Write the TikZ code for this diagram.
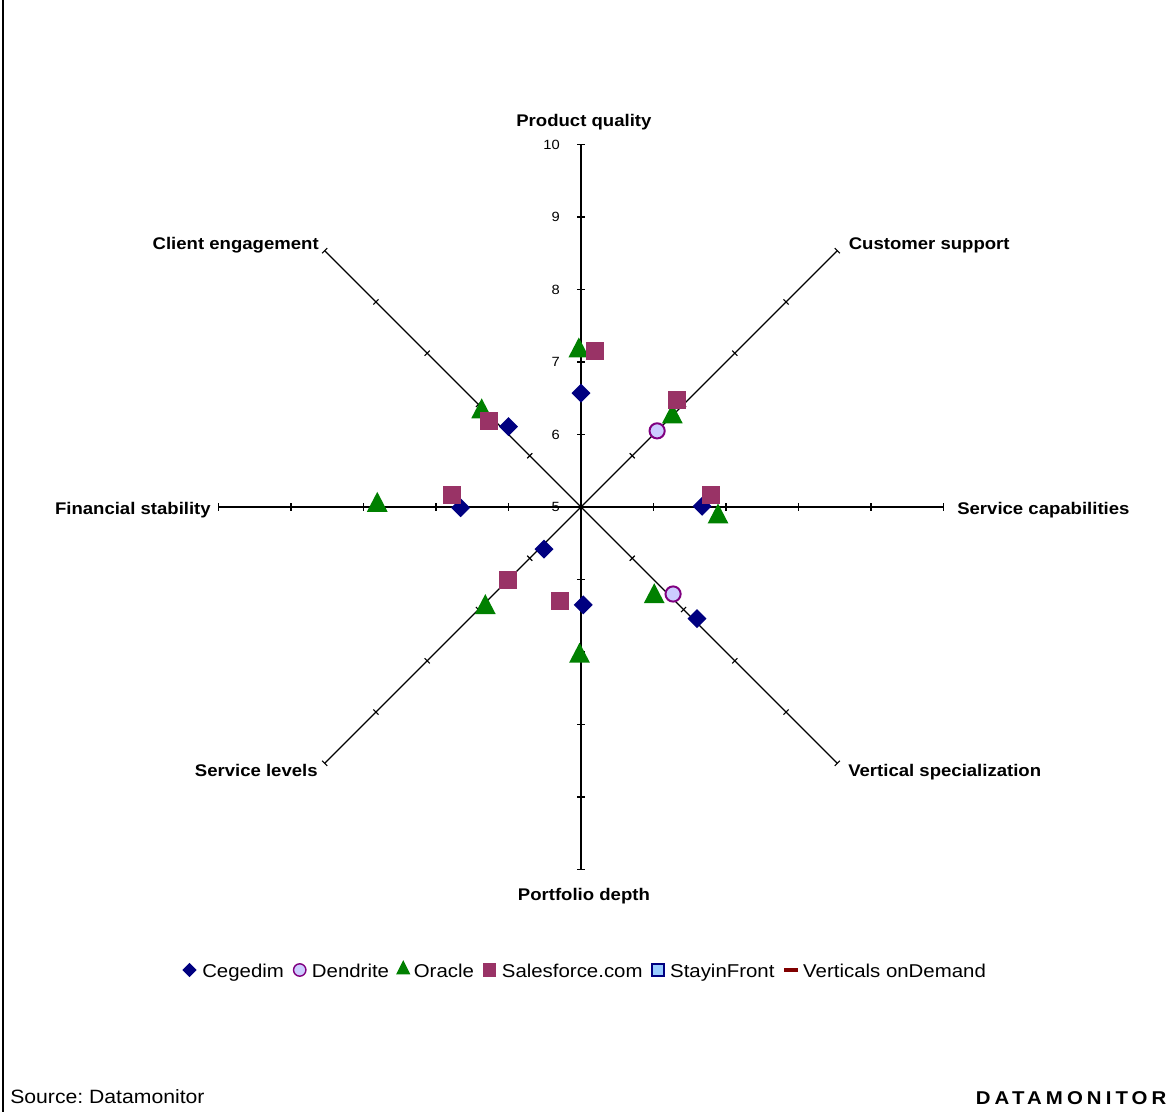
\documentclass[tikz,border=0pt]{standalone}
\usepackage{fontspec}
\setmainfont{Liberation Sans}[FakeStretch=1.1]
\usepackage{tikz}
\usetikzlibrary{positioning,shapes.geometric,calc}
\definecolor{cegedimblue}{HTML}{000080}
\definecolor{oraclegreen}{HTML}{008000}
\definecolor{sfplum}{HTML}{993366}
\definecolor{dendfill}{HTML}{CCCCFF}
\definecolor{dendline}{HTML}{800080}
\definecolor{stayfill}{HTML}{99CCFF}
\definecolor{vodred}{HTML}{800000}
\frenchspacing

\begin{document}
\begin{tikzpicture}[
  x=1.8125cm, y=1.8125cm,
  axis/.style={line width=0.9pt},
  tick/.style={line width=0.8pt},
  axlabel/.style={font=\bfseries\fontsize{12}{14}\selectfont, inner sep=0pt},
  num/.style={font=\fontsize{9.5}{11}\selectfont, inner sep=0pt, anchor=east},
  cegedim/.style={diamond, fill=cegedimblue, inner sep=0pt, minimum width=0.48cm, minimum height=0.48cm},
  dendrite/.style={circle, draw=dendline, line width=1.4pt, fill=dendfill, inner sep=0pt, minimum size=0.38cm},
  oracle/.style={isosceles triangle, isosceles triangle stretches, shape border rotate=90, fill=oraclegreen, inner sep=0pt, minimum width=0.52cm, minimum height=0.5cm},
  salesforce/.style={rectangle, fill=sfplum, inner sep=0pt, minimum width=0.45cm, minimum height=0.45cm},
  stayin/.style={rectangle, draw=cegedimblue, line width=1pt, fill=stayfill, inner sep=0pt, minimum width=0.3cm, minimum height=0.3cm},
  vertod/.style={rectangle, fill=vodred, inner sep=0pt, minimum width=0.35cm, minimum height=0.09cm},
  legmark/.style={minimum width=0.36cm, minimum height=0.36cm},
  legtext/.style={font=\fontsize{13.2}{15}\selectfont, inner sep=0pt, text height=12pt, text depth=1.4pt},
]
\useasboundingbox (-8.0138,-8.3448) rectangle (8.1793,6.9931);

% Frame — left edge only
\coordinate (frametop) at (-7.975,6.9931);
\coordinate (framebot) at (-7.975,-8.3448);
\draw[line width=1.6pt] (frametop) -- (framebot);

% Axes — eight spokes from the centre
\coordinate (o) at (0,0);
\foreach \a/\nm in {90/pq,45/cs,0/sc,-45/vs,-90/pd,-135/sl,180/fs,135/ce}
  \coordinate (\nm) at (\a:5);
\foreach \nm in {pq,cs,sc,vs,pd,sl,fs,ce}
  \draw[axis] (o) -- (\nm);
\foreach \a in {0,45,...,315}
  \foreach \r in {1,...,5}
    \draw[tick] ($(\a:\r)+({\a+90}:0.05)$) -- ($(\a:\r)+({\a-90}:0.05)$);

% Scale — numbers on the upper spoke
\foreach \v in {5,...,10}
  \node[num] (n\v) at (-0.29,{\v-5}) {\v};

% Axis labels
\node[axlabel, anchor=base] (lblpq) at (0.04,5.255) {Product quality};
\node[axlabel, anchor=base west] (lblcs) at (3.69,3.555) {Customer support};
\node[axlabel, anchor=base east] (lblce) at (-3.614,3.555) {Client engagement};
\node[axlabel, anchor=base west] (lblsc) at (5.186,-0.097) {Service capabilities};
\node[axlabel, anchor=base east] (lblfs) at (-5.103,-0.097) {Financial stability};
\node[axlabel, anchor=base west] (lblvs) at (3.683,-3.724) {Vertical specialization};
\node[axlabel, anchor=base east] (lblsl) at (-3.628,-3.724) {Service levels};
\node[axlabel, anchor=base] (lblpd) at (0.04,-5.434) {Portfolio depth};

% Data — Cegedim
\foreach \x/\y [count=\i] in {0.00/1.57,-1.00/1.11,1.67/0.01,-1.66/-0.01,-0.51/-0.58,0.03/-1.35,1.60/-1.54}
  \node[cegedim] (ceg\i) at (\x,\y) {};

% Data — Dendrite
\foreach \x/\y [count=\i] in {1.05/1.05,1.27/-1.20}
  \node[dendrite] (den\i) at (\x,\y) {};

% Data — Oracle
\foreach \x/\y [count=\i] in {-0.03/2.15,-1.37/1.31,1.26/1.24,1.89/-0.14,-2.81/0.02,-1.32/-1.39,-0.02/-2.06,1.01/-1.24}
  \node[oracle] (ora\i) at (\x,\y) {};

% Data — Salesforce.com
\foreach \x/\y [count=\i] in {0.20/2.15,-1.27/1.19,1.33/1.47,1.79/0.17,-1.78/0.17,-1.00/-1.01,-0.29/-1.30}
  \node[salesforce] (sfc\i) at (\x,\y) {};

% Legend
\node[cegedim, legmark] (legceg) at (-5.40,-6.386) {};
\node[legtext, right=1.25mm of legceg] (txtceg) {Cegedim};
\node[dendrite, legmark, line width=1pt, minimum size=0.31cm, right=2.15mm of txtceg] (legden) {};
\node[legtext, right=1.25mm of legden] (txtden) {Dendrite};
\node[oracle, legmark, right=2.15mm of txtden] (legora) {};
\node[legtext, right=1.25mm of legora] (txtora) {Oracle};
\node[salesforce, legmark, minimum width=0.33cm, minimum height=0.33cm, right=2.15mm of txtora] (legsfc) {};
\node[legtext, right=1.25mm of legsfc] (txtsfc) {Salesforce.com};
\node[stayin, right=2.15mm of txtsfc] (legsif) {};
\node[legtext, right=1.25mm of legsif] (txtsif) {StayinFront};
\node[vertod, right=2.15mm of txtsif] (legvod) {};
\node[legtext, right=1.25mm of legvod] (txtvod) {Verticals onDemand};

% Footer
\node[font=\fontsize{13.7}{16}\selectfont, inner sep=0pt, anchor=base west] (src) at (-7.876,-8.234) {Source: Datamonitor};
\node[font=\bfseries\fontsize{13.2}{16}\selectfont\addfontfeature{LetterSpace=22}, inner sep=0pt, anchor=base east] (brand) at (8.079,-8.248) {DATAMONITOR};

\end{tikzpicture}
\end{document}
